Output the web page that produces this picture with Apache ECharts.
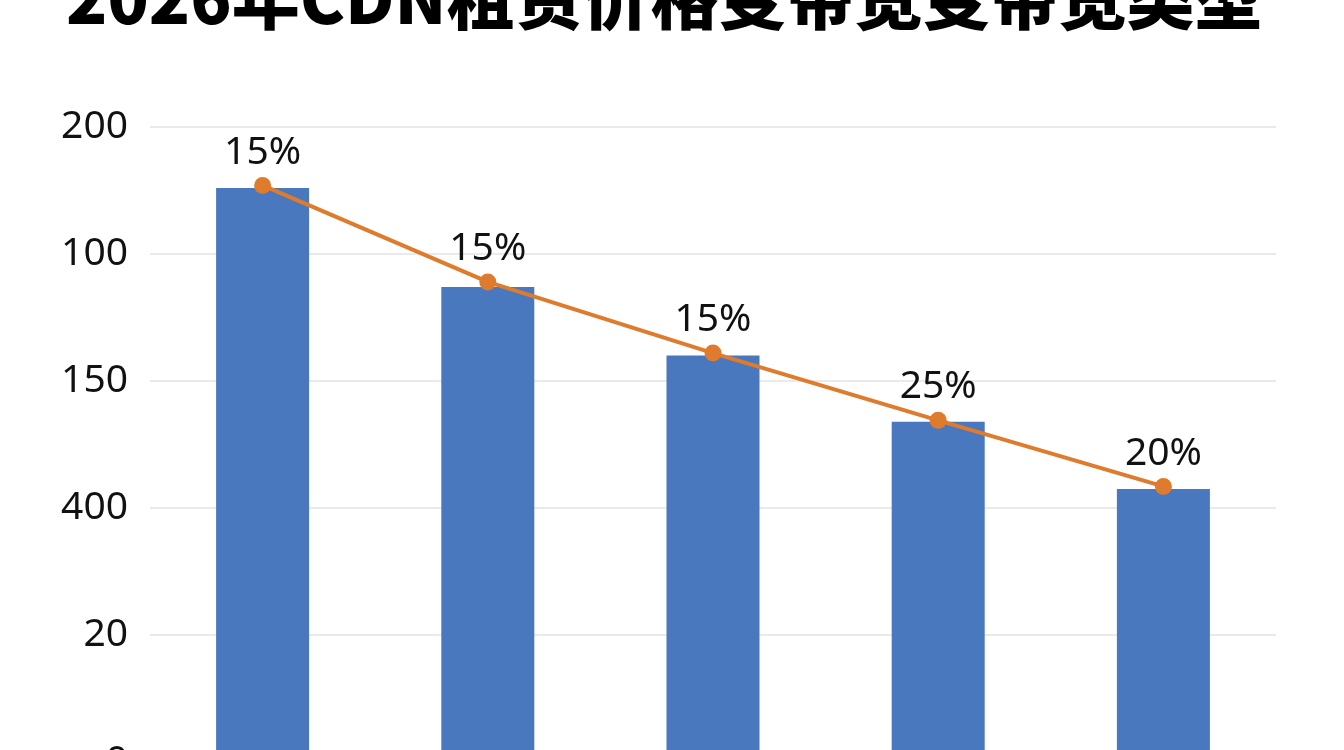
<!DOCTYPE html>
<html>
<head>
<meta charset="utf-8">
<script src="https://cdn.jsdelivr.net/npm/echarts@6/dist/echarts.min.js"></script>
<style>
html,body{margin:0;padding:0;background:#fff;}
#main{width:1344px;height:750px;}
</style>
</head>
<body>
<div id="main"></div>
<script>
var titleText = '2026年CDN租赁价格变带宽变带宽类型';
var categories = ['A', 'B', 'C', 'D', 'E'];
var barValues = [226, 187, 160, 134, 107.5];
var lineValues = [227, 189, 161, 134.5, 108.5];
var lineLabels = ['15%', '15%', '15%', '25%', '20%'];
var tickLabels = ['0', '20', '400', '150', '100', '200'];

var chart = echarts.init(document.getElementById('main'));
chart.setOption({
  animation: false,
  backgroundColor: '#ffffff',
  title: {
    text: titleText,
    left: 61,
    top: -41,
    textStyle: {
      fontFamily: 'Noto Sans CJK SC',
      fontWeight: 900,
      fontSize: 68,
      color: '#000000'
    }
  },
  grid: { left: 150, right: 68, top: 127, bottom: -12, containLabel: false, outerBoundsMode: 'none' },
  xAxis: {
    type: 'category',
    data: categories,
    axisLine: { show: false },
    axisTick: { show: false },
    axisLabel: { show: false }
  },
  yAxis: {
    type: 'value',
    min: 0,
    max: 250,
    interval: 50,
    axisLine: { show: false },
    axisTick: { show: false },
    splitLine: { lineStyle: { color: '#e3e3e3', width: 1.5 } },
    axisLabel: {
      margin: 22,
      fontFamily: 'Noto Sans',
      fontSize: 39,
      color: '#111111',
      formatter: function (v) { return tickLabels[Math.round(v / 50)]; }
    }
  },
  series: [
    {
      type: 'bar',
      data: barValues,
      barWidth: 93,
      itemStyle: { color: '#4a78be' }
    },
    {
      type: 'line',
      data: lineValues,
      symbol: 'circle',
      symbolSize: 17,
      lineStyle: { color: '#de7b2c', width: 4 },
      itemStyle: { color: '#de7b2c' },
      label: {
        show: true,
        position: 'top',
        distance: 5,
        fontFamily: 'Noto Sans',
        fontSize: 39,
        color: '#111111',
        formatter: function (p) { return lineLabels[p.dataIndex]; }
      }
    }
  ]
});
</script>
</body>
</html>
